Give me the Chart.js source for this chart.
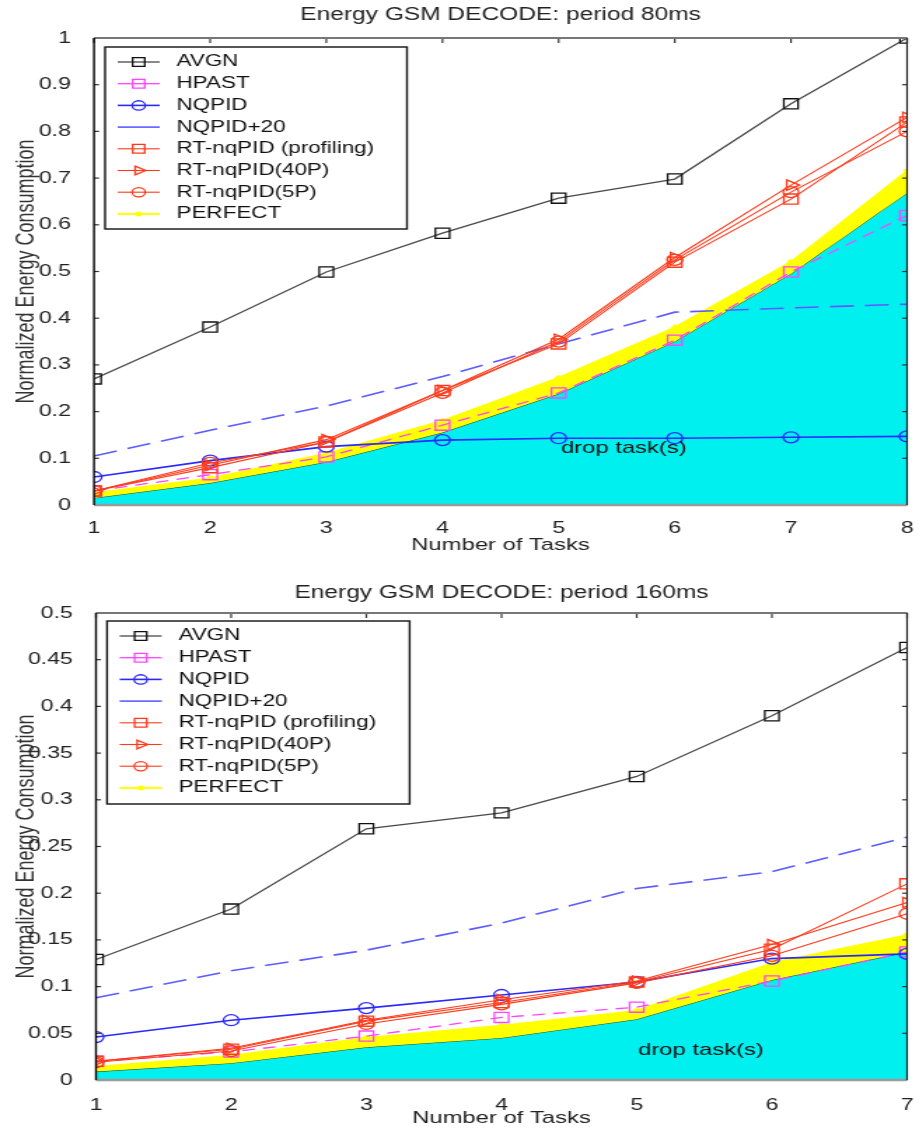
<!DOCTYPE html>
<html>
<head>
<meta charset="utf-8">
<script src="https://cdn.jsdelivr.net/npm/chart.js@4.4.1/dist/chart.umd.min.js"></script>
<style>
  html, body { margin: 0; padding: 0; background: #fff; overflow: hidden; }
  /* the source figure is stretched sideways, so each chart is drawn narrow and scaled */
  .wrap { position: absolute; left: 0; width: 656px; transform: scaleX(1.40091); transform-origin: 0 0; }
  #w80 { top: 0; height: 565px; }
  #w160 { top: 565px; height: 566px; }
</style>
</head>
<body>
<div class="wrap" id="w80"><canvas id="c80"></canvas></div>
<div class="wrap" id="w160"><canvas id="c160"></canvas></div>
<script>
const seriesNames = ["AVGN", "HPAST", "NQPID", "NQPID+20", "RT-nqPID (profiling)", "RT-nqPID(40P)", "RT-nqPID(5P)", "PERFECT"];

// === period 80ms ===
const tasks80 = [1, 2, 3, 4, 5, 6, 7, 8];
const avgn80 = [0.27, 0.381, 0.499, 0.582, 0.657, 0.698, 0.859, 1.0];
const hpast80 = [0.03, 0.065, 0.103, 0.171, 0.24, 0.353, 0.499, 0.62];
const nqpid80 = [0.06, 0.095, 0.125, 0.139, 0.143, 0.143, 0.145, 0.147];
const nqpid20_80 = [0.105, 0.16, 0.212, 0.275, 0.345, 0.413, 0.422, 0.43];
const rtProf80 = [0.03, 0.08, 0.135, 0.245, 0.345, 0.52, 0.655, 0.82];
const rt40p80 = [0.03, 0.085, 0.14, 0.245, 0.355, 0.53, 0.685, 0.83];
const rt5p80 = [0.03, 0.09, 0.135, 0.24, 0.35, 0.525, 0.67, 0.8];
const perfect80 = [0.025, 0.057, 0.11, 0.18, 0.272, 0.38, 0.52, 0.715];
const drop80 = [0.015, 0.047, 0.092, 0.155, 0.238, 0.35, 0.495, 0.668];
const yTicks80 = [0, 0.1, 0.2, 0.3, 0.4, 0.5, 0.6, 0.7, 0.8, 0.9, 1];
const yLabels80 = ["0", "0.1", "0.2", "0.3", "0.4", "0.5", "0.6", "0.7", "0.8", "0.9", "1"];

// === period 160ms ===
const tasks160 = [1, 2, 3, 4, 5, 6, 7];
const avgn160 = [0.129, 0.183, 0.269, 0.286, 0.325, 0.39, 0.463];
const hpast160 = [0.02, 0.03, 0.047, 0.067, 0.078, 0.106, 0.137];
const nqpid160 = [0.046, 0.064, 0.077, 0.091, 0.105, 0.13, 0.135];
const nqpid20_160 = [0.088, 0.117, 0.139, 0.168, 0.205, 0.223, 0.26];
const rtProf160 = [0.02, 0.033, 0.063, 0.083, 0.105, 0.14, 0.21];
const rt40p160 = [0.02, 0.034, 0.064, 0.086, 0.106, 0.145, 0.19];
const rt5p160 = [0.019, 0.031, 0.06, 0.081, 0.104, 0.133, 0.178];
const perfect160 = [0.014, 0.026, 0.045, 0.058, 0.074, 0.125, 0.155];
const drop160 = [0.009, 0.018, 0.035, 0.045, 0.065, 0.107, 0.137];
const yTicks160 = [0, 0.05, 0.1, 0.15, 0.2, 0.25, 0.3, 0.35, 0.4, 0.45, 0.5];
const yLabels160 = ["0", "0.05", "0.1", "0.15", "0.2", "0.25", "0.3", "0.35", "0.4", "0.45", "0.5"];

const FONT = "'Liberation Sans', Arial, Helvetica, sans-serif";
Chart.defaults.font.family = FONT;

// line / marker look of each series (same order as seriesNames)
const seriesStyles = [
  { line: "#4a4a4a", width: 1.3, marker: "rect", radius: 7.2, markerColor: "#111", order: 1 },
  { line: "#ff44ff", width: 1.3, dash: [9, 6], marker: "rect", radius: 7.2, order: 7 },
  { line: "#2a2aff", width: 1.6, marker: "circle", radius: 5.5, order: 5 },
  { line: "#5c5cff", width: 1.6, dash: [17, 8], order: 6 },
  { line: "#ff3a1a", width: 1.1, marker: "rect", radius: 7.2, order: 2 },
  { line: "#ff3a1a", width: 1.1, marker: "triangle", rotation: 90, radius: 6, order: 3 },
  { line: "#ff3a1a", width: 1.1, marker: "circle", radius: 5.5, order: 4 },
  { line: "#ffff00", width: 2, marker: "star", radius: 3, order: 8 }
];

function buildDatasets(tasks, values, drop) {
  const pts = arr => arr.map((v, i) => ({ x: tasks[i], y: v }));
  const ds = seriesNames.map((name, i) => {
    const st = seriesStyles[i];
    return {
      label: name,
      data: pts(values[i]),
      borderColor: st.line,
      borderWidth: st.width,
      borderDash: st.dash || [],
      pointStyle: st.marker || "circle",
      pointRadius: st.marker ? st.radius : 0,
      pointRotation: st.rotation || 0,
      pointBorderColor: st.markerColor || st.line,
      pointBackgroundColor: "rgba(0,0,0,0)",
      pointBorderWidth: 1.3,
      fill: false,
      tension: 0,
      order: st.order
    };
  });
  // PERFECT: yellow band down to the dropped-task area
  ds[7].fill = { target: 8 };
  ds[7].backgroundColor = "#ffff00";
  ds.push({
    label: "drop",
    data: pts(drop),
    borderColor: "#1d4a30",
    borderWidth: 1,
    pointRadius: 0,
    fill: "origin",
    backgroundColor: "#00f0f0",
    tension: 0,
    order: 20
  });
  return ds;
}

function line(ctx, x1, y1, x2, y2) {
  ctx.beginPath();
  ctx.moveTo(x1, y1);
  ctx.lineTo(x2, y2);
  ctx.stroke();
}

function makeChart(id, cfg) {
  const extras = {
    id: "extras_" + id,
    afterDatasetsDraw(chart) {
      const { ctx, chartArea: a, scales: { x, y } } = chart;
      ctx.save();
      // "drop task(s)" note
      ctx.font = "17px " + FONT;
      ctx.fillStyle = "#111";
      ctx.textAlign = "left";
      ctx.textBaseline = "middle";
      ctx.fillText("drop task(s)", x.getPixelForValue(cfg.note[0]), y.getPixelForValue(cfg.note[1]));

      // box and inward ticks
      ctx.strokeStyle = "#333";
      ctx.lineWidth = 1.2;
      cfg.tasks.forEach(t => {
        const px = x.getPixelForValue(t);
        line(ctx, px, a.top, px, a.top + 5);
      });
      cfg.yTicks.forEach(v => {
        const py = y.getPixelForValue(v);
        line(ctx, a.left, py, a.left + 3.6, py);
        line(ctx, a.right, py, a.right - 3.6, py);
      });
      ctx.lineWidth = 2;
      ctx.strokeStyle = "#777";
      line(ctx, a.left, a.top, a.right, a.top);
      ctx.lineWidth = 2.5;
      ctx.strokeStyle = "#9a9a9a";
      line(ctx, a.left, a.bottom, a.right, a.bottom);
      ctx.lineWidth = 1.4;
      ctx.strokeStyle = "#000";
      line(ctx, a.left, a.top, a.left, a.bottom);
      ctx.lineWidth = 1.2;
      ctx.strokeStyle = "#222";
      line(ctx, a.right, a.top, a.right, a.bottom);
      ctx.restore();
    },
    afterDraw(chart) {
      // legend box, MATLAB style
      const ctx = chart.ctx;
      const L = cfg.legend;
      ctx.save();
      ctx.fillStyle = "#fff";
      ctx.fillRect(L.x, L.y, L.w, L.h);
      ctx.strokeStyle = "#111";
      ctx.lineWidth = 1.4;
      ctx.strokeRect(L.x, L.y, L.w, L.h);
      ctx.font = "16px " + FONT;
      ctx.textAlign = "left";
      ctx.textBaseline = "middle";
      seriesNames.forEach((name, i) => {
        const st = seriesStyles[i];
        const cy = L.y + 15 + i * 21.7;
        ctx.strokeStyle = st.line;
        ctx.lineWidth = st.width;
        ctx.setLineDash([]);
        line(ctx, L.x + 9, cy, L.x + 39, cy);
        if (st.marker && Chart.helpers && Chart.helpers.drawPoint) {
          ctx.strokeStyle = st.markerColor || st.line;
          ctx.fillStyle = "rgba(0,0,0,0)";
          ctx.lineWidth = 1.3;
          Chart.helpers.drawPoint(ctx, { pointStyle: st.marker, rotation: st.rotation || 0, radius: st.radius * 0.85, borderWidth: 1.3 }, L.x + 24, cy);
        }
        ctx.fillStyle = "#111";
        ctx.fillText(name, L.x + 51, cy);
      });
      ctx.restore();
    }
  };

  return new Chart(document.getElementById(id), {
    type: "line",
    data: { datasets: buildDatasets(cfg.tasks, cfg.values, cfg.drop) },
    options: {
      responsive: true,
      maintainAspectRatio: false,
      animation: false,
      layout: { padding: { top: 0, left: 0, right: 0.7, bottom: 0 } },
      plugins: {
        legend: { display: false },
        tooltip: { enabled: false },
        title: {
          display: true,
          text: cfg.title,
          fullSize: false,
          color: "#222",
          font: { size: 17.5, weight: "normal" },
          padding: cfg.titlePad
        }
      },
      scales: {
        x: {
          type: "linear",
          min: cfg.tasks[0],
          max: cfg.tasks[cfg.tasks.length - 1],
          afterBuildTicks: s => { s.ticks = cfg.tasks.map(v => ({ value: v })); },
          afterFit: s => { s.height = cfg.xAxisH; s.paddingLeft = 0; s.paddingRight = 0; },
          grid: { display: false },
          border: { display: false },
          ticks: { color: "#222", font: { size: 16.5 }, padding: cfg.xTickPad, maxRotation: 0, autoSkip: false, callback: v => String(v) },
          title: { display: true, text: "Number of Tasks", color: "#222", font: { size: 17 }, padding: { top: 0, bottom: cfg.xTitlePad } }
        },
        y: {
          min: 0,
          max: cfg.yTicks[cfg.yTicks.length - 1],
          afterBuildTicks: s => { s.ticks = cfg.yTicks.map(v => ({ value: v })); },
          afterFit: s => { s.width = cfg.yAxisW; },
          grid: { display: false },
          border: { display: false },
          ticks: { color: "#222", font: { size: 16.5 }, padding: 8.5, autoSkip: false, callback: (v, i) => cfg.yLabels[i] },
          title: { display: true, text: "Normalized Energy Consumption", color: "#333", font: { size: 18 }, padding: { top: 8, bottom: 0 } }
        }
      }
    },
    plugins: [extras]
  });
}

makeChart("c80", {
  title: "Energy GSM DECODE: period 80ms",
  tasks: tasks80,
  values: [avgn80, hpast80, nqpid80, nqpid20_80, rtProf80, rt40p80, rt5p80, perfect80],
  drop: drop80,
  yTicks: yTicks80,
  yLabels: yLabels80,
  yAxisW: 67.1,
  xAxisH: 60,
  xTickPad: 6,
  xTitlePad: 9.8,
  titlePad: { top: 4.5, bottom: 12.5 },
  note: [5.02, 0.122],
  legend: { x: 75, y: 47, w: 215.5, h: 182 }
});

makeChart("c160", {
  title: "Energy GSM DECODE: period 160ms",
  tasks: tasks160,
  values: [avgn160, hpast160, nqpid160, nqpid20_160, rtProf160, rt40p160, rt5p160, perfect160],
  drop: drop160,
  yTicks: yTicks160,
  yLabels: yLabels160,
  yAxisW: 68.5,
  xAxisH: 51,
  xTickPad: 8,
  xTitlePad: 2.8,
  titlePad: { top: 17.5, bottom: 9.5 },
  note: [5.01, 0.032],
  legend: { x: 76.4, y: 56, w: 216, h: 183 }
});
</script>
</body>
</html>
